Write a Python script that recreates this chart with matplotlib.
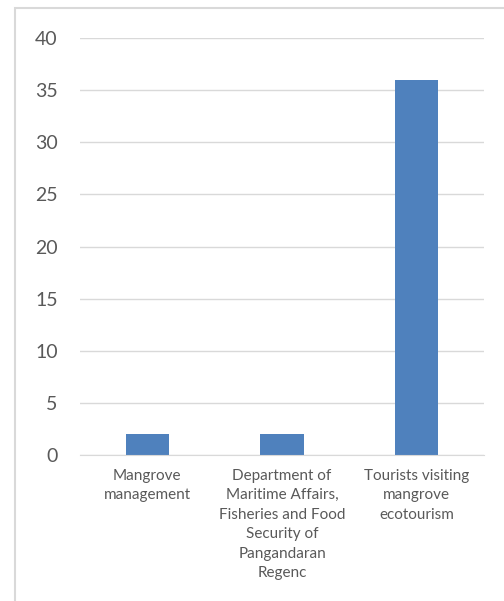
import matplotlib
matplotlib.use("Agg")
import matplotlib.pyplot as plt
from matplotlib.patches import Rectangle

plt.rcParams['font.family'] = ['Lato', 'DejaVu Sans']

categories = ["Mangrove\nmanagement",
              "Department of\nMaritime Affairs,\nFisheries and Food\nSecurity of\nPangandaran\nRegenc",
              "Tourists visiting\nmangrove\necotourism"]
values = [2, 2, 36]
yticks = [0, 5, 10, 15, 20, 25, 30, 35, 40]

fig = plt.figure(figsize=(5.04, 6.01), dpi=100)
# outer frame of the chart area (cut off at right/bottom)
fig.patches.append(Rectangle((15/504, -0.05), 1.0, 1 - 8/601 + 0.05,
                             transform=fig.transFigure, fill=False,
                             edgecolor="#d9d9d9", linewidth=1.5))

ax = fig.add_axes([80/504, 146/601, 404/504, 417/601])
x = list(range(len(values)))
ax.bar(x, values, width=0.32, color="#4f81bd", zorder=3)
ax.set_xlim(-0.5, 2.5)
ax.set_ylim(0, 40)
ax.set_yticks(yticks)
ax.set_xticks(x)
ax.set_xticklabels(categories, fontsize=11, color="#595959", linespacing=1.5)
ax.tick_params(axis="y", length=0, pad=16, labelsize=14, labelcolor="#595959")
ax.tick_params(axis="x", length=0, pad=10)
ax.grid(axis="y", color="#d9d9d9", linewidth=1, zorder=0)
for s in ["top", "right", "left"]:
    ax.spines[s].set_visible(False)
ax.spines["bottom"].set_color("#d9d9d9")
ax.spines["bottom"].set_zorder(4)

fig.savefig("out.png", dpi=100)
